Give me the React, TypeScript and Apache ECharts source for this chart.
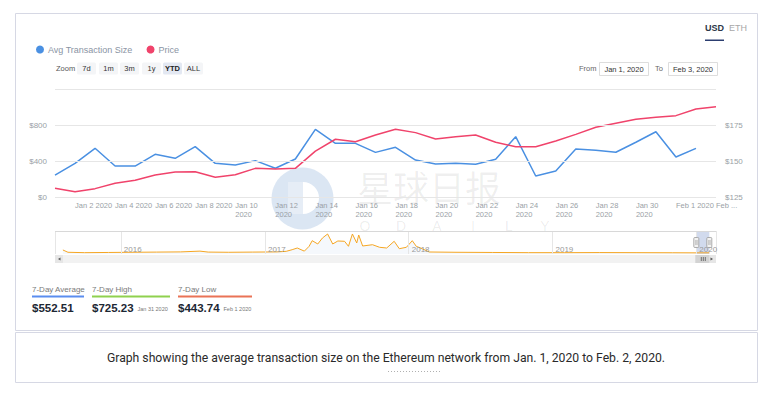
import React, { useEffect, useRef } from 'react';
import * as echarts from 'echarts';

const dates = [
  '2020-01-01', '2020-01-02', '2020-01-03', '2020-01-04', '2020-01-05', '2020-01-06', '2020-01-07',
  '2020-01-08', '2020-01-09', '2020-01-10', '2020-01-11', '2020-01-12', '2020-01-13', '2020-01-14',
  '2020-01-15', '2020-01-16', '2020-01-17', '2020-01-18', '2020-01-19', '2020-01-20', '2020-01-21',
  '2020-01-22', '2020-01-23', '2020-01-24', '2020-01-25', '2020-01-26', '2020-01-27', '2020-01-28',
  '2020-01-29', '2020-01-30', '2020-01-31', '2020-02-01', '2020-02-02', '2020-02-03',
];

const avgTxSize = [
  244, 374, 541, 344, 344, 474, 430, 559, 374, 356, 404, 319, 422, 752, 596, 596, 496,
  552, 411, 367, 374, 363, 419, 670, 233, 289, 534, 520, 497, 608, 725.23, 443.74, 539.6,
];

const price = [
  131.0, 128.7, 130.8, 134.5, 136.6, 140.3, 142.4, 142.6, 138.7, 140.5, 144.9, 144.4,
  144.9, 156.9, 165.1, 163.4, 168.1, 172.0, 169.7, 165.3, 166.9, 168.1, 163.0, 159.9,
  159.9, 163.9, 168.5, 173.4, 176.2, 179.0, 180.3, 181.5, 186.1, 187.7,
];

const navDates = [
  '2015-08-07', '2015-08-20', '2015-10-01', '2015-12-01', '2016-02-01', '2016-04-01',
  '2016-06-01', '2016-07-20', '2016-08-10', '2016-10-01', '2016-12-01', '2017-02-01',
  '2017-02-24', '2017-03-11', '2017-03-24', '2017-04-11', '2017-04-23', '2017-05-01',
  '2017-05-15', '2017-05-27', '2017-06-09', '2017-06-22', '2017-07-05', '2017-07-22',
  '2017-08-01', '2017-08-11', '2017-08-22', '2017-08-27', '2017-09-06', '2017-10-01',
  '2017-10-19', '2017-11-06', '2017-11-25', '2017-12-08', '2017-12-26', '2018-01-10',
  '2018-01-20', '2018-02-04', '2018-02-22', '2018-05-01', '2018-08-01', '2018-11-01',
  '2019-02-01', '2019-05-01', '2019-08-01', '2019-11-01', '2020-01-01', '2020-02-03',
];
const navValues = [
  2100, 900, 700, 800, 900, 1000, 1100, 1500, 1000, 900, 1000, 1100,
  1400, 2250, 3130, 1500, 4000, 6950, 5220, 8350, 10440, 5220, 6790, 6630,
  4020, 10440, 5740, 9920, 4180, 4850, 3500, 3130, 6630, 2770, 3500, 6950,
  4020, 2770, 1050, 900, 800, 700, 700, 750, 700, 650, 600, 600,
];

const legendNames = ['Avg Transaction Size', 'Price'];
const zoomButtons = ['7d', '1m', '3m', '1y', 'YTD', 'ALL'];
const statLabels = ['7-Day Average', '7-Day High', '7-Day Low'];
const statValues = ['$552.51', '$725.23', '$443.74'];
const statDates = ['', 'Jan 31 2020', 'Feb 1 2020'];
const caption =
  'Graph showing the average transaction size on the Ethereum network from Jan. 1, 2020 to Feb. 2, 2020.';
const MONTHS = ['Jan', 'Feb', 'Mar', 'Apr', 'May', 'Jun', 'Jul', 'Aug', 'Sep', 'Oct', 'Nov', 'Dec'];

const FONT = '"Liberation Sans", Arial, sans-serif';
const BLUE = '#4a90e2';
const RED = '#f0436b';

function txt(text: string, x: number, y: number, o: any = {}) {
  return {
    type: 'text',
    x,
    y,
    z: o.z ?? 10,
    style: {
      text,
      fill: o.fill ?? '#333',
      fontSize: o.fontSize ?? 8,
      fontFamily: o.fontFamily ?? FONT,
      fontWeight: o.fontWeight ?? 'normal',
      align: o.align ?? 'left',
      verticalAlign: o.verticalAlign ?? 'middle',
      ...(o.lineHeight ? { lineHeight: o.lineHeight } : {}),
    },
  };
}

function baseGraphics(): any[] {
  const g: any[] = [];
  // cards
  g.push({ type: 'rect', z: 0, shape: { x: 15.5, y: 13.5, width: 742, height: 317 }, style: { fill: 'none', stroke: '#d6d8e4', lineWidth: 1 } });
  g.push({ type: 'rect', z: 0, shape: { x: 15.5, y: 332.5, width: 742, height: 50 }, style: { fill: 'none', stroke: '#d6d8e4', lineWidth: 1 } });
  // USD / ETH
  g.push(txt('USD', 705, 28, { fontSize: 9, fontWeight: 'bold', fill: '#2d3748' }));
  g.push(txt('ETH', 729, 28, { fontSize: 9, fill: '#a8a8a8' }));
  g.push({ type: 'rect', z: 10, shape: { x: 705, y: 39.5, width: 19, height: 1.5 }, style: { fill: '#2c3e70' } });
  // zoom buttons
  g.push(txt('Zoom', 56, 68.5, { fontSize: 7.5, fill: '#555' }));
  const bx = [77, 99, 120, 142, 163, 184];
  zoomButtons.forEach((b, i) => {
    const sel = b === 'YTD';
    g.push({ type: 'rect', z: 5, shape: { x: bx[i], y: 62.5, width: 19, height: 12, r: 1.5 }, style: { fill: sel ? '#e3e8f2' : '#f4f5f7' } });
    g.push(txt(b, bx[i] + 9.5, 68.5, { fontSize: 7.5, align: 'center', fill: sel ? '#222' : '#333', fontWeight: sel ? 'bold' : 'normal' }));
  });
  // From / To
  g.push(txt('From', 579, 68.5, { fontSize: 7.5, fill: '#666' }));
  g.push({ type: 'rect', z: 5, shape: { x: 599.5, y: 62.5, width: 49, height: 13 }, style: { fill: '#fff', stroke: '#dddddd', lineWidth: 1 } });
  g.push(txt('Jan 1, 2020', 624, 69, { fontSize: 7.5, align: 'center', fill: '#333' }));
  g.push(txt('To', 655, 68.5, { fontSize: 7.5, fill: '#666' }));
  g.push({ type: 'rect', z: 5, shape: { x: 668.5, y: 62.5, width: 49, height: 13 }, style: { fill: '#fff', stroke: '#dddddd', lineWidth: 1 } });
  g.push(txt('Feb 3, 2020', 693, 69, { fontSize: 7.5, align: 'center', fill: '#333' }));
  // watermark
  g.push({ type: 'circle', z: -1, shape: { cx: 302.5, cy: 198.5, r: 31 }, style: { fill: 'rgba(176,200,228,0.45)' } });
  g.push({ type: 'rect', z: -1, shape: { x: 288, y: 182, width: 15, height: 32 }, style: { fill: 'rgba(255,255,255,0.3)' } });
  g.push({ type: 'sector', z: -1, shape: { cx: 303, cy: 198, r: 16, r0: 0, startAngle: -Math.PI / 2, endAngle: Math.PI / 2 }, style: { fill: '#ffffff' } });
  g.push(txt('星球日报', 357, 185.5, { fontSize: 36, lineHeight: 32, fill: 'rgba(0,0,0,0.065)', fontFamily: '"Noto Sans CJK SC", sans-serif', z: -1 }));
  'ODAILY'.split('').forEach((c, i) => {
    g.push(txt(c, 365 + i * 36, 226, { fontSize: 14, fill: 'rgba(0,0,0,0.08)', align: 'center', z: -1 }));
  });
  // navigator top line
  g.push({ type: 'line', z: 10, shape: { x1: 55, y1: 231.5, x2: 716, y2: 231.5 }, style: { stroke: '#d8d8d8', lineWidth: 1 } });
  // scrollbar track & buttons
  g.push({ type: 'rect', z: 5, shape: { x: 55, y: 255, width: 661, height: 8 }, style: { fill: '#f2f2f2' } });
  g.push({ type: 'rect', z: 6, shape: { x: 55, y: 255, width: 8, height: 8 }, style: { fill: '#e6e6e6' } });
  g.push({ type: 'polygon', z: 7, shape: { points: [[60.5, 257.5], [60.5, 260.5], [58, 259]] }, style: { fill: '#555' } });
  g.push({ type: 'rect', z: 6, shape: { x: 708, y: 255, width: 8, height: 8 }, style: { fill: '#e6e6e6' } });
  g.push({ type: 'polygon', z: 7, shape: { points: [[710.5, 257.5], [710.5, 260.5], [713, 259]] }, style: { fill: '#555' } });
  // stats
  const sx = [32, 92, 178];
  const sw = [52, 78, 74];
  const sc = ['#5b8def', '#8fd14f', '#ea7356'];
  statLabels.forEach((l, i) => {
    g.push(txt(l, sx[i], 289, { fontSize: 8, fill: '#7a7a7a' }));
    g.push({ type: 'rect', z: 10, shape: { x: sx[i], y: 295.5, width: sw[i], height: 2 }, style: { fill: sc[i] } });
    g.push(txt(statValues[i], sx[i], 308, { fontSize: 11.5, fontWeight: 'bold', fill: '#1d2733' }));
    if (statDates[i]) g.push(txt(statDates[i], sx[i] + 45.5, 309, { fontSize: 5.5, fill: '#777' }));
  });
  // caption
  g.push(txt(caption, 386, 358, { fontSize: 12.2, fill: '#2a2a2a', align: 'center', fontFamily: 'Roboto, sans-serif' }));
  g.push({ type: 'line', z: 10, shape: { x1: 388, y1: 371.5, x2: 440, y2: 371.5 }, style: { stroke: '#b0b0b0', lineWidth: 1, lineDash: [1, 2] } });
  return g;
}

export default function App() {
  const ref = useRef<HTMLDivElement>(null);
  useEffect(() => {
    const chart = echarts.init(ref.current!, null, { renderer: 'svg' });
    const base = baseGraphics();
    const axisText = { color: '#9a9fa6', fontSize: 8, fontFamily: FONT };
    chart.setOption({
      animation: false,
      backgroundColor: '#ffffff',
      textStyle: { fontFamily: FONT },
      legend: {
        data: legendNames,
        left: 31,
        top: 40,
        icon: 'circle',
        itemWidth: 8,
        itemHeight: 8,
        itemGap: 14,
        textStyle: { fontSize: 9, color: '#8a94a4', padding: [0, 0, 0, -1] },
      },
      grid: [
        { left: 55, right: 59, top: 89, height: 108 },
        { left: 55, right: 59, top: 231, height: 23 },
      ],
      xAxis: [
        {
          type: 'category',
          gridIndex: 0,
          data: dates,
          boundaryGap: false,
          z: 5,
          axisLine: { show: false },
          axisTick: { show: false },
          splitLine: { show: false },
          axisLabel: {
            ...axisText,
            fontSize: 7.5,
            margin: 4,
            lineHeight: 9,
            align: 'left',
            showMaxLabel: true,
            hideOverlap: false,
            interval: (i: number) => i % 2 === 1,
            formatter: (v: string, i: number) => {
              const [y, m, d] = v.split('-').map(Number);
              const mon = MONTHS[m - 1];
              if (i === dates.length - 1) return mon + ' ...';
              return d >= 10 ? `${mon} ${d}\n${y}` : `${mon} ${d} ${y}`;
            },
          },
        },
        {
          type: 'time',
          gridIndex: 1,
          min: +new Date('2015-07-18T00:00:00'),
          max: +new Date('2020-02-20T00:00:00'),
          z: 5,
          axisLine: { show: false },
          axisTick: { show: false },
          splitLine: { show: true, lineStyle: { color: '#e6e6e6' } },
          axisLabel: {
            ...axisText,
            color: '#999',
            inside: true,
            align: 'left',
            verticalAlign: 'bottom',
            margin: 1,
            padding: [0, 0, 0, 3],
            showMinLabel: false,
            showMaxLabel: false,
            formatter: '{yyyy}',
          },
        },
      ],
      yAxis: [
        {
          type: 'value',
          gridIndex: 0,
          min: 0,
          max: 1200,
          interval: 400,
          z: 5,
          axisLine: { show: false },
          axisTick: { show: false },
          splitLine: { lineStyle: { color: '#e6e6e6' } },
          axisLabel: { ...axisText, margin: 8, formatter: (v: number) => (v >= 1200 ? '' : '$' + v) },
        },
        {
          type: 'value',
          gridIndex: 0,
          position: 'right',
          min: 125,
          max: 200,
          interval: 25,
          z: 5,
          axisLine: { show: false },
          axisTick: { show: false },
          splitLine: { show: false },
          axisLabel: { ...axisText, margin: 9, formatter: (v: number) => (v >= 200 ? '' : '$' + v) },
        },
        {
          type: 'value',
          gridIndex: 1,
          min: 0,
          max: 12000,
          show: false,
          splitLine: { show: false },
        },
      ],
      series: [
        {
          name: 'Avg Transaction Size',
          type: 'line',
          xAxisIndex: 0,
          yAxisIndex: 0,
          data: avgTxSize,
          showSymbol: false,
          color: BLUE,
          lineStyle: { width: 1.5, color: BLUE },
          z: 3,
        },
        {
          name: 'Price',
          type: 'line',
          xAxisIndex: 0,
          yAxisIndex: 1,
          data: price,
          showSymbol: false,
          color: RED,
          lineStyle: { width: 1.5, color: RED },
          z: 3,
        },
        {
          name: 'nav',
          type: 'line',
          xAxisIndex: 1,
          yAxisIndex: 2,
          data: navDates.map((d, i) => [+new Date(d + 'T00:00:00'), navValues[i]]),
          showSymbol: false,
          lineStyle: { width: 1, color: '#f5a623' },
          areaStyle: { color: 'rgba(214,226,244,0.35)' },
          markArea: {
            silent: true,
            itemStyle: { color: 'rgba(102,133,194,0.3)' },
            data: [[{ xAxis: +new Date(dates[0] + 'T00:00:00') }, { xAxis: +new Date(dates[dates.length - 1] + 'T00:00:00') }]],
          },
          z: 3,
        },
      ],
      graphic: base,
    });
    const p0 = chart.convertToPixel({ xAxisIndex: 1 }, +new Date(dates[0] + 'T00:00:00')) as number;
    const p1 = chart.convertToPixel({ xAxisIndex: 1 }, +new Date(dates[dates.length - 1] + 'T00:00:00')) as number;
    const extra: any[] = [];
    [p0, p1].forEach((p) => {
      extra.push({ type: 'rect', z: 12, shape: { x: p - 2.5, y: 237.5, width: 5, height: 10, r: 1 }, style: { fill: '#f2f2f2', stroke: '#999', lineWidth: 0.8 } });
      extra.push({ type: 'line', z: 13, shape: { x1: p - 0.5, y1: 240, x2: p - 0.5, y2: 245 }, style: { stroke: '#999', lineWidth: 0.6 } });
      extra.push({ type: 'line', z: 13, shape: { x1: p + 0.8, y1: 240, x2: p + 0.8, y2: 245 }, style: { stroke: '#999', lineWidth: 0.6 } });
    });
    extra.push({ type: 'rect', z: 8, shape: { x: p0 - 1, y: 255, width: p1 - p0 + 1, height: 8 }, style: { fill: '#d3d3d3' } });
    const mid = (p0 + p1) / 2;
    [-2, 0, 2].forEach((d) => {
      extra.push({ type: 'line', z: 9, shape: { x1: mid + d + 0.5, y1: 257, x2: mid + d + 0.5, y2: 261 }, style: { stroke: '#555', lineWidth: 0.8 } });
    });
    chart.setOption({ graphic: [...base, ...extra] });
    return () => chart.dispose();
  }, []);
  return <div ref={ref} style={{ position: 'fixed', left: 0, top: 0, width: 775, height: 396 }} />;
}
